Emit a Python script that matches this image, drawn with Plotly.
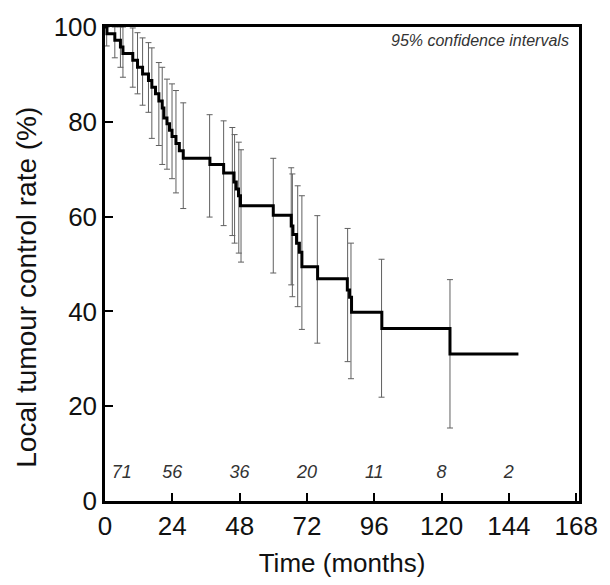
import plotly.graph_objects as go

# Kaplan-Meier estimate (months, %)
km_time = [0, 0.7, 3.5, 5.5, 6.4, 9.9, 11.6, 13.4, 15.5, 16.7, 18.0, 19.2, 20.4,
           21.0, 22.1, 23.0, 23.9, 25.3, 26.5, 27.9, 37.4, 42.3, 46.0, 46.8, 47.6,
           48.3, 60.0, 66.4, 67.0, 68.3, 69.3, 70.2, 75.8, 86.4, 87.2, 87.9,
           98.7, 123.0, 147.4]
km_surv = [100, 98.6, 97.2, 95.8, 94.4, 93.0, 91.5, 90.1, 88.7, 87.3, 85.9, 84.4, 82.9,
           80.8, 79.6, 78.2, 76.9, 75.4, 73.9, 72.3, 71.0, 69.2, 67.3, 65.8, 64.4,
           62.3, 60.3, 58.0, 56.2, 54.4, 52.5, 49.4, 46.9, 44.5, 43.0, 39.8,
           36.4, 31.0, 31.0]

# 95% confidence intervals
ci_time = [0.6, 3.5, 5.5, 6.4, 9.9, 11.6, 13.4, 15.5, 16.7, 19.2, 20.4, 22.1, 23.9,
           25.3, 27.9, 37.3, 42.3, 45.4, 46.2, 47.7, 48.5, 60.0, 66.4, 66.8, 68.7,
           70.2, 75.7, 86.5, 87.7, 98.6, 123.0]
ci_lower = [96.0, 93.5, 91.5, 89.4, 87.3, 85.9, 83.5, 82.0, 76.5, 75.0, 71.0, 70.0, 68.0,
            65.0, 61.7, 59.9, 58.1, 56.0, 54.4, 52.3, 50.4, 48.1, 45.6, 43.1, 41.0,
            36.2, 33.3, 29.4, 25.8, 21.9, 15.4]
ci_upper = [100, 100, 100, 100, 99.8, 98.8, 97.7, 96.7, 95.6, 92.5, 91.5, 89.0, 88.0,
            86.6, 84.0, 81.5, 80.2, 78.8, 77.3, 75.7, 74.1, 72.3, 70.3, 69.0, 66.5,
            64.4, 60.2, 57.5, 54.4, 51.0, 46.7]

# numbers at risk
risk_time = [6, 24, 48, 72, 96, 120, 144]
risk_n = ['71', '56', '36', '20', '11', '8', '2']

x_ticks = [0, 24, 48, 72, 96, 120, 144, 168]
y_ticks = [0, 20, 40, 60, 80, 100]

fig = go.Figure()

fig.add_trace(go.Scatter(
    x=ci_time, y=ci_lower, mode='markers',
    marker=dict(size=1, color='rgba(0,0,0,0)'),
    error_y=dict(type='data', symmetric=False,
                 array=[u - l for u, l in zip(ci_upper, ci_lower)],
                 arrayminus=[0] * len(ci_lower),
                 color='#606060', thickness=1, width=3),
    hoverinfo='skip', showlegend=False))

fig.add_trace(go.Scatter(
    x=km_time, y=km_surv, mode='lines', line=dict(color='black', width=3, shape='hv'),
    showlegend=False))

fig.add_trace(go.Scatter(
    x=risk_time, y=[5.7] * len(risk_time), mode='text', text=risk_n,
    textfont=dict(family='Liberation Sans', size=18, color='#333333', style='italic'),
    hoverinfo='skip', showlegend=False))

fig.add_annotation(x=1, y=1, xref='paper', yref='paper', xanchor='right', yanchor='top',
                   xshift=-8, yshift=-3, showarrow=False,
                   text='<i>95% confidence intervals</i>',
                   font=dict(family='Liberation Sans', size=16, color='#333333'))

# y title sits a little below the middle of the axis in the original
fig.add_annotation(x=0, y=0.45, xref='paper', yref='paper', xanchor='center', yanchor='middle',
                   xshift=-78, showarrow=False, textangle=-90,
                   text='Local tumour control rate (%)',
                   font=dict(family='Liberation Sans', size=28, color='#111111'))

axis_common = dict(showline=True, linecolor='black', linewidth=2.5, mirror=True,
                   ticks='inside', ticklen=8, tickwidth=2, tickcolor='black',
                   showgrid=False, zeroline=False,
                   tickfont=dict(family='Liberation Sans', size=26, color='#111111'))

fig.update_layout(
    width=610, height=585,
    margin=dict(l=105, r=22, t=21, b=81),
    paper_bgcolor='white', plot_bgcolor='white',
    xaxis=dict(range=[0, 169], tickvals=x_ticks,
               title=dict(text='Time (months)', standoff=14,
                          font=dict(family='Liberation Sans', size=26, color='#111111')),
               **axis_common),
    yaxis=dict(range=[0, 100], tickvals=y_ticks, **axis_common),
)

# page body has a default 8px margin; drop it so the figure sits at the corner
fig.write_html('out.html', config={'displayModeBar': False},
               post_script="document.body.style.margin='0';")
